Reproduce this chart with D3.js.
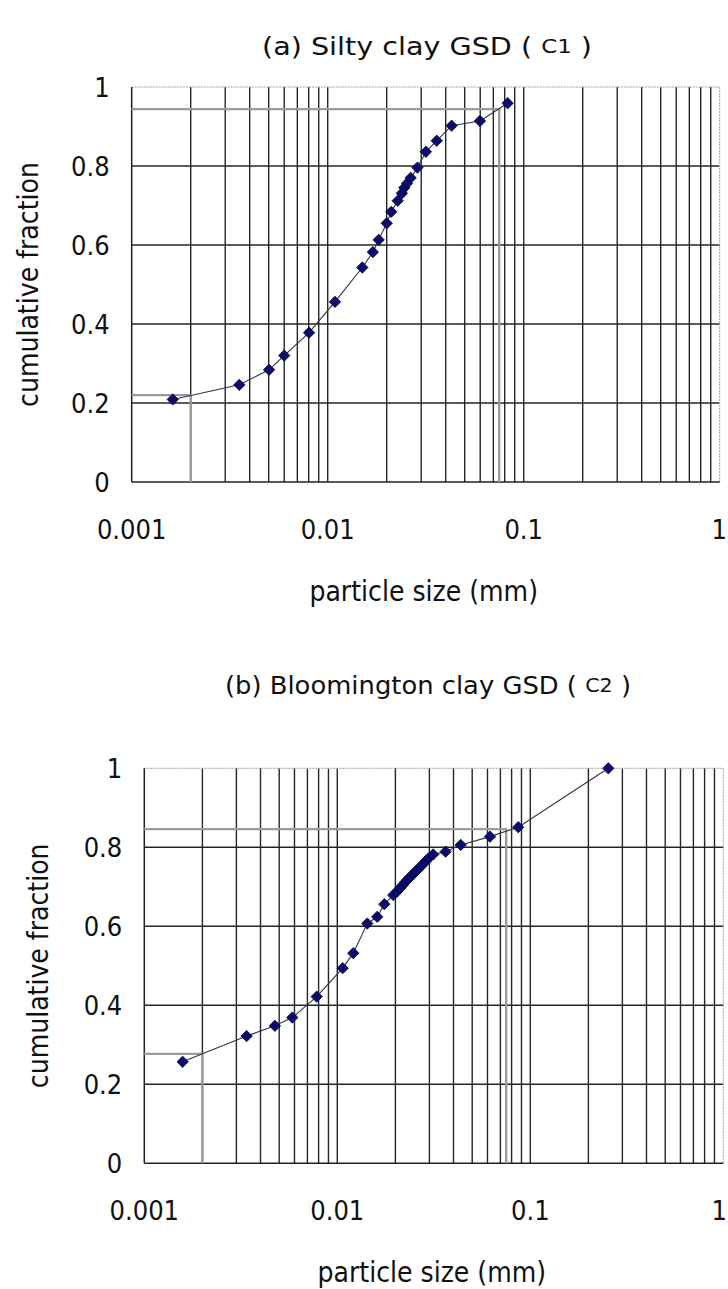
<!DOCTYPE html>
<html>
<head>
<meta charset="utf-8">
<script src="https://cdn.jsdelivr.net/npm/d3@7"></script>
<style>
  html, body { margin: 0; padding: 0; background: #fff; }
  svg { display: block; }
  text { font-family: "DejaVu Sans Condensed", "Liberation Sans Narrow", "Liberation Sans", Arial, sans-serif; fill: #111; }
</style>
</head>
<body>
<svg id="chart" width="728" height="1289"></svg>
<script>
// Grain size distribution: silty clay (C1)
const c1Size = [0.00162, 0.00354, 0.00502, 0.0060, 0.00803, 0.01089, 0.01502, 0.0170, 0.0182, 0.0200,
                0.0211, 0.02275, 0.0239, 0.0246, 0.0254, 0.0265, 0.0287, 0.0317, 0.0360, 0.0429, 0.0598, 0.0828];
const c1Frac = [0.209, 0.246, 0.284, 0.320, 0.378, 0.456, 0.543, 0.582, 0.613, 0.655,
                0.684, 0.712, 0.731, 0.745, 0.756, 0.770, 0.796, 0.836, 0.864, 0.902, 0.914, 0.959];

// Grain size distribution: Bloomington clay (C2)
const c2Size = [0.00158, 0.00339, 0.00475, 0.00585, 0.00782, 0.01066, 0.0121, 0.0143, 0.0161, 0.01752,
                0.0195, 0.0204, 0.0211, 0.0218, 0.0225, 0.0232, 0.0240, 0.0248, 0.0256, 0.0265,
                0.0275, 0.0286, 0.0297, 0.0314, 0.0364, 0.0436, 0.0618, 0.0866, 0.2536];
const c2Frac = [0.257, 0.322, 0.348, 0.369, 0.422, 0.494, 0.532, 0.607, 0.624, 0.656,
                0.679, 0.688, 0.696, 0.704, 0.712, 0.719, 0.726, 0.733, 0.740, 0.747,
                0.755, 0.764, 0.772, 0.782, 0.789, 0.806, 0.827, 0.851, 1.0];

// Reference readings: clay fraction (0.002 mm) and fines (0.075 mm)
const refSize = [0.002, 0.075];
const c1Ref = [0.220, 0.944];
const c2Ref = [0.277, 0.846];

// Axis ticks
const xTickValues = [0.001, 0.01, 0.1, 1];
const xTickLabels = ["0.001", "0.01", "0.1", "1"];
const yTickValues = [0, 0.2, 0.4, 0.6, 0.8, 1];
const yTickLabels = ["0", "0.2", "0.4", "0.6", "0.8", "1"];

const svg = d3.select("#chart");

function drawPanel(cfg) {
  const x = d3.scaleLog().domain([0.001, 1]).range([cfg.left, cfg.right]);
  const y = d3.scaleLinear().domain([0, 1]).range([cfg.bottom, cfg.top]);
  const g = svg.append("g");

  // minor + major vertical grid lines (1..9 per decade)
  const vGrid = [];
  for (let e = -3; e < 0; e++) {
    for (let m = 1; m <= 9; m++) vGrid.push(m * Math.pow(10, e));
  }
  g.selectAll(".vgrid").data(vGrid.filter(v => v > 0.0010001)).join("line")
    .attr("x1", d => x(d)).attr("x2", d => x(d))
    .attr("y1", y(0)).attr("y2", y(1))
    .attr("stroke", "#262626").attr("stroke-width", 1.4);

  // horizontal grid lines
  g.selectAll(".hgrid").data([0.2, 0.4, 0.6, 0.8]).join("line")
    .attr("x1", x(0.001)).attr("x2", x(1))
    .attr("y1", d => y(d)).attr("y2", d => y(d))
    .attr("stroke", "#262626").attr("stroke-width", 1.4);

  // plot frame: light top/right, dark left/bottom
  g.append("line").attr("x1", x(0.001)).attr("x2", x(1)).attr("y1", y(1)).attr("y2", y(1))
    .attr("stroke", "#a0a0a0").attr("stroke-width", 1).attr("stroke-dasharray", "2,1");
  g.append("line").attr("x1", x(1)).attr("x2", x(1)).attr("y1", y(1)).attr("y2", y(0))
    .attr("stroke", "#a0a0a0").attr("stroke-width", 1).attr("stroke-dasharray", "2,1");
  g.append("line").attr("x1", x(0.001)).attr("x2", x(0.001)).attr("y1", y(1)).attr("y2", y(0))
    .attr("stroke", "#222").attr("stroke-width", 1.5);
  g.append("line").attr("x1", x(0.001)).attr("x2", x(1)).attr("y1", y(0)).attr("y2", y(0))
    .attr("stroke", "#222").attr("stroke-width", 1.5);

  // reference reading lines (L-shaped)
  refSize.forEach((s, i) => {
    const v = cfg.ref[i];
    g.append("path")
      .attr("d", `M${x(0.001)},${y(v)}H${x(s)}V${y(0)}`)
      .attr("fill", "none").attr("stroke", "#9b9b9b").attr("stroke-width", 2.4);
  });

  // data curve
  const pts = cfg.size.map((s, i) => [s, cfg.frac[i]]);
  g.append("path").datum(pts)
    .attr("d", d3.line().x(d => x(d[0])).y(d => y(d[1])))
    .attr("fill", "none").attr("stroke", "#33334a").attr("stroke-width", 1.1);

  // diamond markers
  g.selectAll(".pt").data(pts).join("path")
    .attr("d", d3.symbol(d3.symbolSquare, 64))
    .attr("transform", d => `translate(${x(d[0])},${y(d[1])}) rotate(45)`)
    .attr("fill", "#0c0c6e").attr("stroke", "#05053a").attr("stroke-width", 0.8);

  // y tick labels
  g.selectAll(".ylab").data(yTickValues).join("text")
    .attr("x", cfg.left - 22).attr("y", d => y(d))
    .attr("dy", "0.36em").attr("text-anchor", "end")
    .attr("font-size", 27)
    .text((d, i) => yTickLabels[i]);

  // x tick labels (last one kept inside the page edge)
  g.selectAll(".xlab").data(xTickValues).join("text")
    .attr("x", d => d === 1 ? 727 : x(d)).attr("y", cfg.bottom + 57)
    .attr("text-anchor", d => d === 1 ? "end" : "middle").attr("font-size", 27)
    .text((d, i) => xTickLabels[i]);

  // axis titles
  g.append("text")
    .attr("x", (cfg.left + cfg.right) / 2 - 2).attr("y", cfg.bottom + 119)
    .attr("text-anchor", "middle").attr("font-size", 28)
    .text("particle size (mm)");
  g.append("text")
    .attr("transform", `translate(${cfg.yTitleX},${(cfg.top + cfg.bottom) / 2}) rotate(-90)`)
    .attr("text-anchor", "middle").attr("font-size", 28)
    .text("cumulative fraction");

  // panel title
  const t = g.append("text")
    .attr("x", cfg.titleX).attr("y", cfg.titleY)
    .attr("text-anchor", "middle").attr("font-size", 25)
    .attr("textLength", cfg.titleW).attr("lengthAdjust", "spacingAndGlyphs");
  t.append("tspan").text(cfg.title + " ( ");
  t.append("tspan").attr("font-size", 20).attr("dy", -2).text(cfg.code);
  t.append("tspan").attr("dy", 2).text(" )");
}

drawPanel({
  left: 131.7, right: 719.7, top: 87, bottom: 482,
  size: c1Size, frac: c1Frac, ref: c1Ref,
  title: "(a) Silty clay GSD", code: "C1",
  titleX: 427, titleY: 55, titleW: 330, yTitleX: 38
});

drawPanel({
  left: 144.3, right: 723.3, top: 768.3, bottom: 1163.3,
  size: c2Size, frac: c2Frac, ref: c2Ref,
  title: "(b) Bloomington clay GSD", code: "C2",
  titleX: 428, titleY: 694, titleW: 406, yTitleX: 48
});
</script>
</body>
</html>
